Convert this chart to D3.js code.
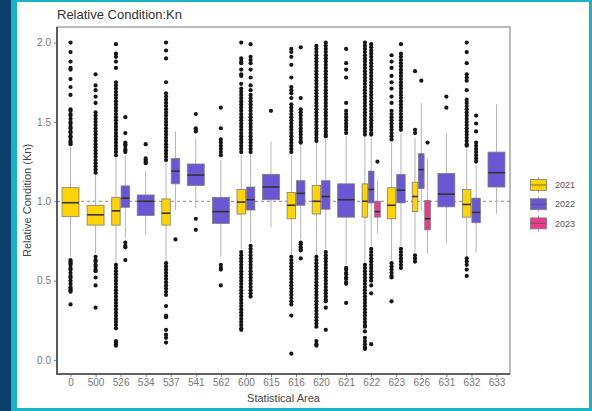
<!DOCTYPE html>
<html>
<head>
<meta charset="utf-8">
<script src="https://cdn.jsdelivr.net/npm/d3@7"></script>
<style>
  body { margin: 0; background: #fff; }
  svg { display: block; font-family: "Liberation Sans", Arial, sans-serif; }
</style>
</head>
<body>
<svg width="592" height="411"></svg>
<script>
const areas = ["0", "500", "526", "534", "537", "541", "562", "600", "615", "616",
               "620", "621", "622", "623", "626", "631", "632", "633"];
const years = ["2021", "2022", "2023"];

// [area, lower whisker, q1, median, q3, upper whisker]
const box2021 = [
    ["0",   0.65, 0.903, 0.991, 1.086, 1.34],
    ["500", 0.67, 0.85, 0.915, 0.975, 1.17],
    ["526", 0.61, 0.85, 0.94, 1.025, 1.28],
    ["537", 0.62, 0.85, 0.925, 1.015, 1.25],
    ["600", 0.70, 0.92, 0.995, 1.075, 1.29],
    ["616", 0.66, 0.89, 0.975, 1.055, 1.29],
    ["620", 0.66, 0.92, 1.0, 1.10, 1.37],
    ["622", 0.61, 0.90, 1.0, 1.11, 1.41],
    ["623", 0.63, 0.89, 0.975, 1.085, 1.37],
    ["626", 0.68, 0.935, 1.03, 1.12, 1.40],
    ["632", 0.65, 0.90, 0.98, 1.075, 1.33]
];
const box2022 = [
    ["526", 0.77, 0.962, 1.02, 1.097, 1.29],
    ["534", 0.79, 0.91, 1.0, 1.04, 1.19],
    ["537", 0.945, 1.11, 1.19, 1.27, 1.44],
    ["541", 0.955, 1.10, 1.165, 1.235, 1.40],
    ["562", 0.65, 0.86, 0.935, 1.025, 1.26],
    ["600", 0.74, 0.945, 1.01, 1.09, 1.30],
    ["615", 0.836, 1.01, 1.09, 1.17, 1.376],
    ["616", 0.76, 0.975, 1.05, 1.13, 1.36],
    ["620", 0.70, 0.95, 1.03, 1.13, 1.40],
    ["621", 0.60, 0.90, 1.01, 1.11, 1.41],
    ["622", 0.72, 0.99, 1.075, 1.19, 1.40],
    ["623", 0.72, 0.99, 1.07, 1.17, 1.43],
    ["626", 0.94, 1.08, 1.20, 1.30, 1.62],
    ["631", 0.735, 0.965, 1.045, 1.175, 1.43],
    ["632", 0.68, 0.865, 0.93, 1.02, 1.23],
    ["633", 0.92, 1.09, 1.18, 1.31, 1.61]
];
const box2023 = [
    ["622", 0.80, 0.90, 0.935, 1.0, 1.13],
    ["626", 0.67, 0.82, 0.89, 1.005, 1.27]
];

const out2021 = {
    "0": [2.0, 1.94, 1.88, 1.84, 1.83, 1.77, 1.72, 1.67, 1.58, 1.57, 1.55, 1.54, 1.52, 1.50, 1.49, 1.47, 1.46,
          1.44, 1.43, 1.41, 1.40, 1.38, 1.37, 1.36,
          0.63, 0.62, 0.61, 0.60, 0.58, 0.57, 0.55, 0.53, 0.52, 0.50, 0.48, 0.46, 0.45, 0.44, 0.43, 0.35],
    "500": [1.80, 1.73, 1.70, 1.66, 1.62, 1.56, 1.54, 1.52, 1.50, 1.48, 1.46, 1.44, 1.42, 1.40, 1.38, 1.36,
            1.34, 1.32, 1.30, 1.28, 1.26, 1.24, 1.22, 1.20, 1.18,
            0.65, 0.63, 0.62, 0.60, 0.59, 0.57, 0.56, 0.52, 0.47, 0.33],
    "526": [1.99, 1.93, 1.91, 1.88, 1.84, 1.75, 1.73, 1.71, 1.69, 1.67, 1.65, 1.63, 1.61, 1.59, 1.57, 1.55,
            1.53, 1.51, 1.49, 1.47, 1.45, 1.43, 1.41, 1.39, 1.37, 1.35, 1.33, 1.31, 1.29,
            0.60, 0.58, 0.56, 0.54, 0.52, 0.50, 0.48, 0.46, 0.44, 0.42, 0.40, 0.38, 0.36, 0.34, 0.32, 0.30,
            0.28, 0.26, 0.24, 0.22, 0.20, 0.12, 0.11, 0.10, 0.09],
    "537": [2.0, 1.95, 1.90, 1.75, 1.68, 1.66, 1.64, 1.62, 1.60, 1.58, 1.56, 1.54, 1.52, 1.50, 1.48, 1.46,
            1.44, 1.42, 1.40, 1.38, 1.36, 1.34, 1.32, 1.30, 1.28, 1.26,
            0.61, 0.59, 0.57, 0.55, 0.53, 0.51, 0.49, 0.47, 0.45, 0.43, 0.41, 0.34, 0.28, 0.27, 0.19, 0.16,
            0.14, 0.11],
    "600": [2.0, 1.90, 1.88, 1.87, 1.83, 1.80, 1.79, 1.74, 1.71, 1.69, 1.67, 1.65, 1.63, 1.61, 1.59, 1.57,
            1.55, 1.53, 1.51, 1.49, 1.47, 1.45, 1.43, 1.41, 1.39, 1.37, 1.35, 1.33, 1.31,
            0.68, 0.66, 0.64, 0.62, 0.60, 0.58, 0.56, 0.54, 0.52, 0.50, 0.48, 0.46, 0.44, 0.42, 0.40, 0.38,
            0.36, 0.34, 0.32, 0.30, 0.28, 0.26, 0.24, 0.22, 0.20, 0.19],
    "616": [1.96, 1.94, 1.91, 1.86, 1.78, 1.72, 1.70, 1.68, 1.65, 1.61, 1.59, 1.57, 1.55, 1.53, 1.51, 1.49,
            1.47, 1.45, 1.43, 1.41, 1.39, 1.37, 1.35, 1.33, 1.31,
            0.65, 0.63, 0.61, 0.59, 0.57, 0.55, 0.53, 0.51, 0.49, 0.47, 0.45, 0.43, 0.41, 0.39, 0.37, 0.35,
            0.28, 0.04],
    "620": [1.98, 1.96, 1.94, 1.92, 1.90, 1.88, 1.86, 1.84, 1.82, 1.80, 1.78, 1.76, 1.74, 1.72, 1.70, 1.68,
            1.66, 1.64, 1.62, 1.60, 1.58, 1.56, 1.54, 1.52, 1.50, 1.48, 1.46, 1.44, 1.42, 1.40, 1.38,
            0.65, 0.63, 0.61, 0.59, 0.57, 0.55, 0.53, 0.51, 0.49, 0.47, 0.45, 0.43, 0.41, 0.39, 0.37, 0.35,
            0.33, 0.31, 0.29, 0.27, 0.25, 0.23, 0.21, 0.12, 0.10, 0.09],
    "622": [2.0, 1.98, 1.96, 1.94, 1.92, 1.90, 1.88, 1.86, 1.84, 1.82, 1.80, 1.78, 1.76, 1.74, 1.72, 1.70,
            1.68, 1.66, 1.64, 1.62, 1.60, 1.58, 1.56, 1.54, 1.52, 1.50, 1.48, 1.46, 1.44, 1.42,
            0.60, 0.58, 0.56, 0.54, 0.52, 0.50, 0.48, 0.46, 0.44, 0.42, 0.40, 0.38, 0.36, 0.34, 0.32, 0.30,
            0.28, 0.26, 0.24, 0.22, 0.21, 0.18, 0.14, 0.12, 0.10, 0.08, 0.07],
    "623": [1.92, 1.88, 1.84, 1.79, 1.75, 1.71, 1.66, 1.62, 1.57, 1.55, 1.53, 1.51, 1.49, 1.47, 1.45, 1.43,
            1.41, 1.39, 0.61, 0.59, 0.57, 0.55, 0.53, 0.52, 0.37],
    "626": [1.82, 1.45, 1.43, 0.66, 0.64, 0.62],
    "632": [2.0, 1.94, 1.87, 1.80, 1.78, 1.76, 1.70, 1.64, 1.62, 1.60, 1.58, 1.56, 1.54, 1.52, 1.50, 1.48,
            1.46, 1.44, 1.42, 1.40, 1.38, 1.36, 1.35, 0.64, 0.62, 0.60, 0.57, 0.53]
};
const out2022 = {
    "526": [1.53, 1.43, 1.37, 1.36, 1.35, 1.33, 1.32, 1.31, 0.74, 0.72, 0.71, 0.63],
    "534": [1.36, 1.27, 1.26, 1.25, 1.24],
    "537": [0.76],
    "541": [1.55, 1.46, 1.45, 1.44, 0.89, 0.82],
    "562": [1.59, 1.46, 1.39, 1.37, 1.35, 1.33, 1.31, 1.29, 0.60, 0.58, 0.57, 0.47],
    "600": [1.99, 1.91, 1.89, 1.87, 1.83, 1.78, 1.73, 1.70, 1.67, 1.65, 1.63, 1.61, 1.59, 1.57, 1.55, 1.53,
            1.51, 1.49, 1.47, 1.45, 1.43, 1.41, 1.39, 1.37, 1.35, 1.33, 1.31,
            0.72, 0.70, 0.68, 0.66, 0.64, 0.62, 0.60, 0.58, 0.56, 0.54, 0.52, 0.50, 0.48, 0.46, 0.44, 0.42,
            0.40],
    "615": [1.57],
    "616": [1.97, 1.65, 1.58, 1.56, 1.54, 1.52, 1.50, 1.48, 1.46, 1.44, 1.42, 1.40, 1.38, 1.37,
            0.74, 0.73, 0.71, 0.70, 0.69, 0.64],
    "620": [2.0, 1.98, 1.96, 1.94, 1.92, 1.90, 1.88, 1.86, 1.84, 1.82, 1.80, 1.78, 1.76, 1.74, 1.72, 1.70,
            1.68, 1.66, 1.64, 1.62, 1.60, 1.58, 1.56, 1.54, 1.52, 1.50, 1.48, 1.46, 1.44, 1.42, 1.41,
            0.68, 0.66, 0.64, 0.62, 0.60, 0.58, 0.56, 0.54, 0.52, 0.50, 0.48, 0.46, 0.44, 0.42, 0.40, 0.38,
            0.37, 0.33, 0.19],
    "621": [1.96, 1.87, 1.83, 1.78, 1.62, 1.57, 1.55, 1.53, 1.51, 1.49, 1.47, 1.45, 1.43,
            0.58, 0.57, 0.55, 0.54, 0.52, 0.51, 0.49, 0.48, 0.36],
    "622": [1.99, 1.97, 1.95, 1.93, 1.91, 1.89, 1.87, 1.85, 1.83, 1.81, 1.79, 1.77, 1.75, 1.73, 1.71, 1.69,
            1.67, 1.65, 1.63, 1.61, 1.59, 1.57, 1.55, 1.53, 1.51, 1.49, 1.47, 1.45, 1.43, 1.42,
            0.70, 0.68, 0.66, 0.64, 0.62, 0.60, 0.58, 0.56, 0.54, 0.52, 0.50, 0.47, 0.42, 0.10],
    "623": [1.99, 1.93, 1.91, 1.89, 1.87, 1.85, 1.83, 1.81, 1.79, 1.77, 1.75, 1.73, 1.71, 1.69, 1.67, 1.65,
            1.63, 1.61, 1.59, 1.57, 1.55, 1.53, 1.51, 1.49, 1.47, 1.45,
            0.70, 0.68, 0.66, 0.64, 0.62, 0.60, 0.58],
    "626": [1.76],
    "631": [1.66, 1.59],
    "632": [1.54, 1.49, 1.44, 1.37, 1.35, 1.33, 1.31, 1.29, 1.27, 1.25]
};
const out2023 = {
    "622": [1.25],
    "626": [1.37]
};

const yTicks = [0, 0.5, 1, 1.5, 2];
const refLine = 1.0;

const colors = {"2021": "#FFD400", "2022": "#6A57D4", "2023": "#EE3A8C"};

const svg = d3.select("svg");
const W = 592, H = 411;
const panel = {left: 57, top: 27, right: 510, bottom: 374};

// frame
svg.append("rect").attr("width", W).attr("height", H).attr("fill", "#19b4c4");
svg.append("rect").attr("width", 11).attr("height", H).attr("fill", "#0b3f6e");
svg.append("rect").attr("x", 17).attr("y", 2).attr("width", 572).attr("height", 406).attr("fill", "#fff");

const x = d3.scalePoint().domain(areas).range([panel.left, panel.right]).padding(0.54);
const y = d3.scaleLinear().domain([-0.088, 2.098]).range([panel.bottom, panel.top]);

// build boxes
const tables = {"2021": [box2021, out2021], "2022": [box2022, out2022], "2023": [box2023, out2023]};
let boxes = [];
for (const yr of years) {
    const [rows, outs] = tables[yr];
    for (const r of rows) {
        boxes.push({area: r[0], year: yr, lw: r[1], q1: r[2], med: r[3], q3: r[4], uw: r[5], out: outs[r[0]] || []});
    }
}
const byArea = d3.group(boxes, d => d.area);
const total = x.step() * 0.75;
for (const [area, list] of byArea) {
    list.sort((a, b) => d3.ascending(a.year, b.year));
    const slot = total / list.length;
    list.forEach((d, i) => {
        d.cx = x(area) - total / 2 + slot * (i + 0.5);
        d.w = slot * 0.9;
    });
}

// panel border
svg.append("rect")
    .attr("x", panel.left).attr("y", panel.top)
    .attr("width", panel.right - panel.left).attr("height", panel.bottom - panel.top)
    .attr("fill", "none").attr("stroke", "#777").attr("stroke-width", 1);

// reference line
svg.append("line")
    .attr("x1", panel.left).attr("x2", panel.right)
    .attr("y1", y(refLine)).attr("y2", y(refLine))
    .attr("stroke", "#888").attr("stroke-width", 1).attr("stroke-dasharray", "3,3");

const g = svg.append("g");

g.selectAll("line.whisker")
    .data(boxes)
    .join("line")
    .attr("class", "whisker")
    .attr("x1", d => d.cx).attr("x2", d => d.cx)
    .attr("y1", d => y(d.lw)).attr("y2", d => y(d.uw))
    .attr("stroke", "#b5b5b5").attr("stroke-width", 1);

g.selectAll("g.outs")
    .data(boxes)
    .join("g")
    .attr("class", "outs")
    .selectAll("circle")
    .data(d => d.out.map(v => ({cx: d.cx, v})))
    .join("circle")
    .attr("cx", d => d.cx)
    .attr("cy", d => y(d.v))
    .attr("r", 2.1)
    .attr("fill", "#151515");

g.selectAll("rect.box")
    .data(boxes)
    .join("rect")
    .attr("class", "box")
    .attr("x", d => d.cx - d.w / 2)
    .attr("width", d => d.w)
    .attr("y", d => y(d.q3))
    .attr("height", d => y(d.q1) - y(d.q3))
    .attr("fill", d => colors[d.year])
    .attr("stroke", "#7d7d7d").attr("stroke-width", 0.8);

g.selectAll("line.median")
    .data(boxes)
    .join("line")
    .attr("class", "median")
    .attr("x1", d => d.cx - d.w / 2).attr("x2", d => d.cx + d.w / 2)
    .attr("y1", d => y(d.med)).attr("y2", d => y(d.med))
    .attr("stroke", "#333").attr("stroke-width", 1.6);

// axes
const yAxis = svg.append("g")
    .attr("transform", `translate(${panel.left},0)`)
    .call(d3.axisLeft(y).tickValues(yTicks).tickFormat(d3.format(".1f")).tickSize(3).tickPadding(3));
const xAxis = svg.append("g")
    .attr("transform", `translate(0,${panel.bottom})`)
    .call(d3.axisBottom(x).tickSize(3).tickPadding(2));
for (const ax of [yAxis, xAxis]) {
    ax.select(".domain").remove();
    ax.selectAll(".tick line").attr("stroke", "#888");
    ax.selectAll(".tick text").attr("fill", "#777").style("font-size", "10px")
        .style("font-family", "'Liberation Sans', Arial, sans-serif");
}
svg.append("line")
    .attr("x1", panel.left).attr("x2", panel.left)
    .attr("y1", panel.top).attr("y2", panel.bottom + 0.5)
    .attr("stroke", "#444").attr("stroke-width", 1.6);
svg.append("line")
    .attr("x1", panel.left - 0.5).attr("x2", panel.right)
    .attr("y1", panel.bottom).attr("y2", panel.bottom)
    .attr("stroke", "#444").attr("stroke-width", 1.6);

// titles
svg.append("text")
    .attr("x", panel.left).attr("y", 18.5)
    .attr("fill", "#333").style("font-size", "13px")
    .text("Relative Condition:Kn");
svg.append("text")
    .attr("x", (panel.left + panel.right) / 2).attr("y", 402)
    .attr("text-anchor", "middle")
    .attr("fill", "#444").style("font-size", "11px")
    .text("Statistical Area");
svg.append("text")
    .attr("transform", `translate(31,${(panel.top + panel.bottom) / 2}) rotate(-90)`)
    .attr("text-anchor", "middle")
    .attr("fill", "#444").style("font-size", "11px")
    .text("Relative Condition (Kn)");

// legend
const legend = svg.append("g").attr("transform", "translate(530,185)");
const item = legend.selectAll("g")
    .data(years)
    .join("g")
    .attr("transform", (d, i) => `translate(0,${i * 19.2})`);
item.append("line")
    .attr("x1", 8.5).attr("x2", 8.5).attr("y1", -8).attr("y2", 8)
    .attr("stroke", "#b5b5b5");
item.append("rect")
    .attr("x", 0.5).attr("y", -5.5).attr("width", 16).attr("height", 11)
    .attr("fill", d => colors[d]).attr("stroke", "#7d7d7d").attr("stroke-width", 0.8);
item.append("line")
    .attr("x1", 0.5).attr("x2", 16.5).attr("y1", 0).attr("y2", 0)
    .attr("stroke", "#555").attr("stroke-width", 0.8);
item.append("text")
    .attr("x", 25).attr("dy", "0.35em")
    .attr("fill", "#555").style("font-size", "9px")
    .text(d => d);
</script>
</body>
</html>
